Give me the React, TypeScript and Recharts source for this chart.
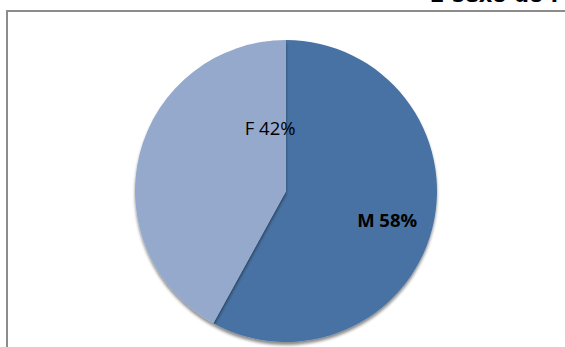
import React from 'react';
import { PieChart, Pie, Cell } from 'recharts';

const categories = ['M', 'F'];
const values = [58, 42];
const colors = ['#4672a3', '#94a9cc'];
const boldLabels = [true, false];

const data = categories.map((name, i) => ({ name, value: values[i] }));

// label anchor as fraction of radius (dx, dy) from the pie centre
const labelSpots = [
  [0.67, 0.19],
  [-0.105, -0.42],
];

const renderLabel = (props: any) => {
  const { cx, cy, outerRadius, index, name, percent } = props;
  const [fx, fy] = labelSpots[index];
  return (
    <text
      x={cx + fx * outerRadius}
      y={cy + fy * outerRadius}
      textAnchor="middle"
      dominantBaseline="central"
      fill="#000"
      fontFamily="'Open Sans', 'DejaVu Sans', sans-serif"
      fontSize={18.5}
      fontWeight={boldLabels[index] ? 700 : 400}
    >
      {`${name} ${Math.round(percent * 100)}%`}
    </text>
  );
};

export default function App() {
  return (
    <div style={{ position: 'absolute', left: 0, top: 0, width: 565, height: 347, overflow: 'hidden', background: '#fff' }}>
      <div
        style={{
          position: 'absolute',
          left: 6,
          top: 10,
          width: 600,
          height: 400,
          borderTop: '2px solid #8c8c8c',
          borderLeft: '2px solid #8c8c8c',
        }}
      />
      <div
        style={{
          position: 'absolute',
          left: 430,
          top: -17,
          fontFamily: "'DejaVu Sans', sans-serif",
          fontWeight: 700,
          fontSize: 21,
          whiteSpace: 'nowrap',
          color: '#000',
        }}
      >
        2 sexo do r
      </div>
      <div style={{ position: 'absolute', left: 0, top: 0 }}>
        <PieChart width={565} height={347} margin={{ top: 0, right: 0, bottom: 0, left: 0 }}>
          <defs>
            <filter id="pieShadow" x="-10%" y="-10%" width="120%" height="120%">
              <feDropShadow dx="0" dy="3" stdDeviation="1.5" floodColor="#000" floodOpacity="0.45" />
            </filter>
          </defs>
          <Pie
            data={data}
            dataKey="value"
            nameKey="name"
            cx={286}
            cy={191}
            outerRadius={151}
            startAngle={90}
            endAngle={-270}
            stroke="none"
            labelLine={false}
            label={renderLabel}
            isAnimationActive={false}
            style={{ filter: 'url(#pieShadow)' }}
          >
            {data.map((entry, i) => (
              <Cell key={`cell-${i}`} fill={colors[i]} />
            ))}
          </Pie>
        </PieChart>
      </div>
    </div>
  );
}
